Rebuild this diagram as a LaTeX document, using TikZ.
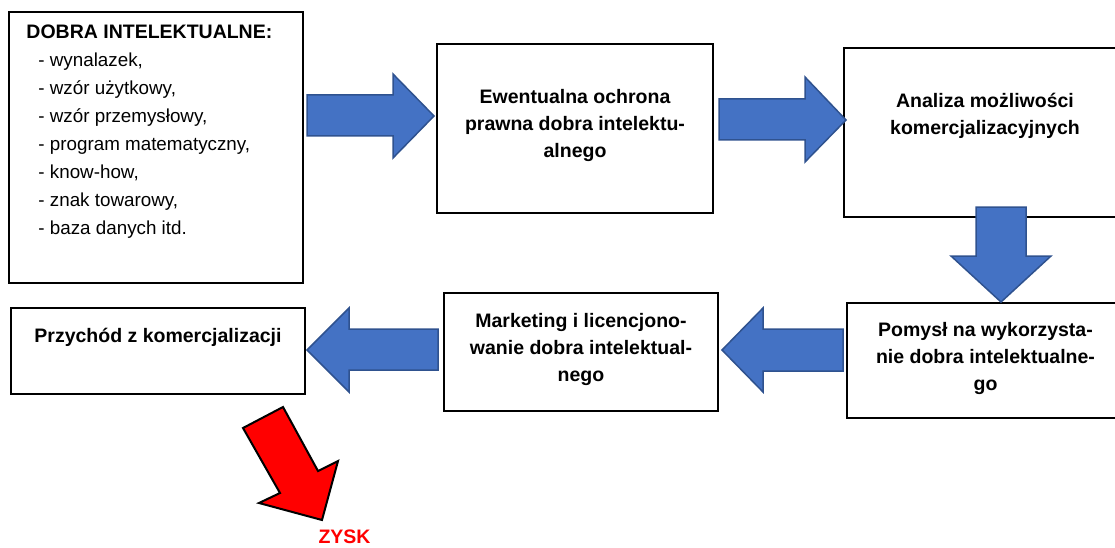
\documentclass[tikz,border=0pt]{standalone}
\usepackage{fontspec}
\setmainfont{Liberation Sans}
\usetikzlibrary{positioning}
\definecolor{arrow-blue}{HTML}{4472C4}
\definecolor{arrow-edge}{HTML}{2F528F}
\begin{document}
\begin{tikzpicture}[x=1pt,y=-1pt,
box/.style = {draw, line width=1.5pt, inner sep=0pt},
box-text/.style = {font=\bfseries\fontsize{19.5}{27}\selectfont, align=center, inner sep=0pt},
list-text/.style = {font=\fontsize{18.8}{28}\selectfont, align=left, inner sep=0pt},
blue-arrow/.style = {fill=arrow-blue, draw=arrow-edge, line width=1.5pt},
red-arrow/.style = {fill=red, draw=black, line width=2pt}
]
\useasboundingbox (0,0) rectangle (1115,548);
\clip (0,0) rectangle (1115,548);
\node[box, minimum width=294pt, minimum height=271pt] (dobra) at (156,147.5) {};
\node[box, minimum width=276pt, minimum height=169pt] (ochrona) at (575,128.5) {};
\node[box, minimum width=282pt, minimum height=169pt] (analiza) at (985,132.5) {};
\node[box, minimum width=277pt, minimum height=115pt] (pomysl) at (985.5,360.5) {};
\node[box, minimum width=274pt, minimum height=118pt] (marketing) at (581,352) {};
\node[box, minimum width=294pt, minimum height=86pt] (przychod) at (158,351) {};
\node[list-text, anchor=north west] (dobra-text) at ([xshift=18pt,yshift=-13pt]dobra.north west)
    {{\bfseries\fontsize{19.5}{28}\selectfont DOBRA INTELEKTUALNE:}\\
     \hspace*{12pt}- wynalazek,\\
     \hspace*{12pt}- wzór użytkowy,\\
     \hspace*{12pt}- wzór przemysłowy,\\
     \hspace*{12pt}- program matematyczny,\\
     \hspace*{12pt}- know-how,\\
     \hspace*{12pt}- znak towarowy,\\
     \hspace*{12pt}- baza danych itd.};
\node[box-text] (ochrona-text) at ([yshift=3pt]ochrona.center)
    {Ewentualna ochrona\\prawna dobra intelektu-\\alnego};
\node[box-text] (analiza-text) at ([yshift=17pt]analiza.center)
    {Analiza możliwości\\komercjalizacyjnych};
\node[box-text] (pomysl-text) at ([yshift=2pt]pomysl.center)
    {Pomysł na wykorzysta-\\nie dobra intelektualne-\\go};
\node[box-text] (marketing-text) at ([yshift=2.5pt]marketing.center)
    {Marketing i licencjono-\\wanie dobra intelektual-\\nego};
\node[box-text] (przychod-text) at ([yshift=14pt]przychod.center)
    {Przychód z komercjalizacji};
\draw[blue-arrow] (307,95) -- (393,95) -- (393,74) -- (434,116)
    -- (393,158) -- (393,136) -- (307,136) -- cycle;
\draw[blue-arrow] (719,99) -- (805,99) -- (805,77) -- (846,120)
    -- (805,162) -- (805,140) -- (719,140) -- cycle;
\draw[blue-arrow] (976,207) -- (1026,207) -- (1026,256) -- (1051,256)
    -- (1001,302) -- (951,256) -- (976,256) -- cycle;
\draw[blue-arrow] (843,329) -- (763,329) -- (763,308) -- (722,350)
    -- (763,392) -- (763,371) -- (843,371) -- cycle;
\draw[blue-arrow] (438,329) -- (349,329) -- (349,308) -- (307,350)
    -- (349,392) -- (349,370) -- (438,370) -- cycle;
\draw[red-arrow] (243,428) -- (283,407) -- (318,471) -- (338,461)
    -- (322,520) -- (259,503) -- (280,493) -- cycle;
\node[font=\bfseries\fontsize{19.5}{24}\selectfont, text=red, inner sep=0pt] (zysk) at (344.5,537) {ZYSK};
\end{tikzpicture}
\end{document}
